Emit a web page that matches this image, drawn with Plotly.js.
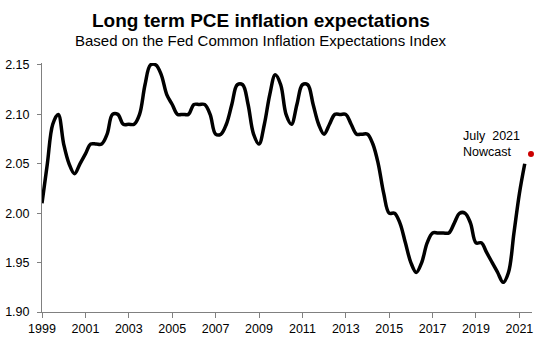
<!DOCTYPE html>
<html>
<head>
<meta charset="utf-8">
<script src="https://cdn.plot.ly/plotly-3.0.1.min.js"></script>
<style>html,body{margin:0;padding:0;background:#fff;}#chart{width:547px;height:343px;}</style>
</head>
<body>
<div id="chart"></div>
<script>
const quarters = [
"1999-01-01","1999-04-01","1999-07-01","1999-10-01",
"2000-01-01","2000-04-01","2000-07-01","2000-10-01",
"2001-01-01","2001-04-01","2001-07-01","2001-10-01",
"2002-01-01","2002-04-01","2002-07-01","2002-10-01",
"2003-01-01","2003-04-01","2003-07-01","2003-10-01",
"2004-01-01","2004-04-01","2004-07-01","2004-10-01",
"2005-01-01","2005-04-01","2005-07-01","2005-10-01",
"2006-01-01","2006-04-01","2006-07-01","2006-10-01",
"2007-01-01","2007-04-01","2007-07-01","2007-10-01",
"2008-01-01","2008-04-01","2008-07-01","2008-10-01",
"2009-01-01","2009-04-01","2009-07-01","2009-10-01",
"2010-01-01","2010-04-01","2010-07-01","2010-10-01",
"2011-01-01","2011-04-01","2011-07-01","2011-10-01",
"2012-01-01","2012-04-01","2012-07-01","2012-10-01",
"2013-01-01","2013-04-01","2013-07-01","2013-10-01",
"2014-01-01","2014-04-01","2014-07-01","2014-10-01",
"2015-01-01","2015-04-01","2015-07-01","2015-10-01",
"2016-01-01","2016-04-01","2016-07-01","2016-10-01",
"2017-01-01","2017-04-01","2017-07-01","2017-10-01",
"2018-01-01","2018-04-01","2018-07-01","2018-10-01",
"2019-01-01","2019-04-01","2019-07-01","2019-10-01",
"2020-01-01","2020-04-01","2020-07-01","2020-10-01",
"2021-01-01","2021-04-01"
];
const cieValues = [
2.01,2.05,2.09,2.10,
2.07,2.05,2.04,2.05,
2.06,2.07,2.07,2.07,
2.08,2.10,2.10,2.09,
2.09,2.09,2.10,2.13,
2.15,2.15,2.14,2.12,
2.11,2.10,2.10,2.10,
2.11,2.11,2.11,2.10,
2.08,2.08,2.09,2.11,
2.13,2.13,2.11,2.08,
2.07,2.09,2.12,2.14,
2.13,2.10,2.09,2.11,
2.13,2.13,2.11,2.09,
2.08,2.09,2.10,2.10,
2.10,2.09,2.08,2.08,
2.08,2.07,2.05,2.02,
2.00,2.00,1.99,1.97,
1.95,1.94,1.95,1.97,
1.98,1.98,1.98,1.98,
1.99,2.00,2.00,1.99,
1.97,1.97,1.96,1.95,
1.94,1.93,1.94,1.98,
2.02,2.05
];
const nowcastDate = ["2021-07-15"];
const nowcastValue = [2.06];
const xTickVals = ["1999-01-01","2001-01-01","2003-01-01","2005-01-01","2007-01-01","2009-01-01","2011-01-01","2013-01-01","2015-01-01","2017-01-01","2019-01-01","2021-01-01"];
const xTickText = ["1999","2001","2003","2005","2007","2009","2011","2013","2015","2017","2019","2021"];
const yTickVals = [1.90,1.95,2.00,2.05,2.10,2.15];
const yTickText = ["1.90","1.95","2.00","2.05","2.10","2.15"];

const font = "Liberation Sans, Arial, sans-serif";
const traces = [
  {x: quarters, y: cieValues, type: "scatter", mode: "lines",
   line: {color: "#000", width: 3.5, shape: "spline", smoothing: 1.0},
   hoverinfo: "skip", showlegend: false},
  {x: nowcastDate, y: nowcastValue, type: "scatter", mode: "markers",
   marker: {color: "#cc0000", size: 6}, cliponaxis: false, showlegend: false}
];
const layout = {
  width: 547, height: 343,
  margin: {l: 42, r: 15, t: 63, b: 31},
  paper_bgcolor: "#fff", plot_bgcolor: "#fff",
  font: {family: font, size: 12, color: "#000"},
  showlegend: false,
  xaxis: {type: "date", range: ["1999-01-01", "2021-08-01"],
    tickvals: xTickVals, ticktext: xTickText,
    showgrid: false, zeroline: false, showline: true, linecolor: "#808080", linewidth: 1,
    ticks: "outside", ticklen: 5, tickcolor: "#808080",
    tickfont: {family: font, size: 12.5, color: "#000"}},
  yaxis: {range: [1.90, 2.152],
    tickvals: yTickVals, ticktext: yTickText,
    showgrid: false, zeroline: false, showline: true, linecolor: "#808080", linewidth: 1,
    ticks: "outside", ticklen: 4, tickcolor: "#808080", ticklabelstandoff: 5,
    tickfont: {family: font, size: 12.5, color: "#000"}},
  annotations: [
    {text: "<b>Long term PCE inflation expectations</b>", xref: "paper", yref: "paper",
     x: 0.447, y: 1, xanchor: "center", yanchor: "middle", yshift: 63 - 20,
     showarrow: false, font: {family: font, size: 19, color: "#000"}},
    {text: "Based on the Fed Common Inflation Expectations Index", xref: "paper", yref: "paper",
     x: 0.447, y: 1, xanchor: "center", yanchor: "middle", yshift: 63 - 40,
     showarrow: false, font: {family: font, size: 15, color: "#000"}},
    {text: "July  2021<br>Nowcast", xref: "paper", yref: "paper",
     x: 0.856, y: 0.675, xanchor: "left", yanchor: "middle", align: "left",
     showarrow: false, font: {family: font, size: 12.5, color: "#000"}}
  ]
};
Plotly.newPlot("chart", traces, layout, {displayModeBar: false, staticPlot: true});
</script>
</body>
</html>
